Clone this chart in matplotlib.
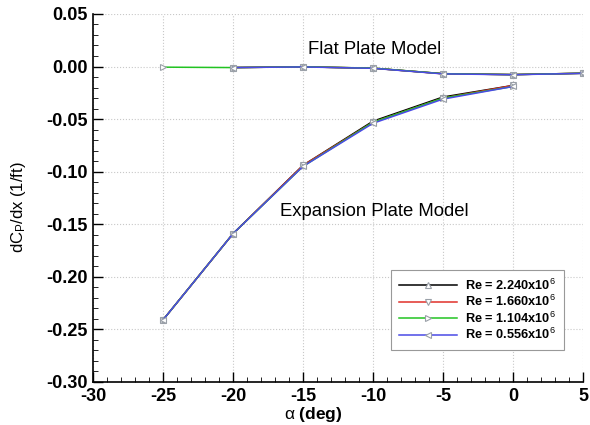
import matplotlib

matplotlib.use("Agg")
import matplotlib.pyplot as plt
from matplotlib.ticker import MultipleLocator

plt.rcParams["font.family"] = ["Liberation Sans", "DejaVu Sans"]
plt.rcParams["axes.unicode_minus"] = False
plt.rcParams["mathtext.fontset"] = "custom"
plt.rcParams["mathtext.rm"] = "Liberation Sans"
plt.rcParams["mathtext.it"] = "Liberation Sans"
plt.rcParams["mathtext.bf"] = "Liberation Sans:bold"

# flat plate model
alpha_flat = [-20, -15, -10, -5, 0, 5]
alpha_flat_green = [-25, -20, -15, -10, -5, 0, 5]
flat = {
    "black": [-0.0010, -0.0003, -0.0016, -0.0068, -0.0077, -0.0064],
    "red": [-0.0010, -0.0003, -0.0016, -0.0069, -0.0077, -0.0064],
    "green": [-0.0006, -0.0010, -0.0003, -0.0015, -0.0068, -0.0077, -0.0064],
    "blue": [-0.0010, -0.0004, -0.0017, -0.0070, -0.0078, -0.0065],
}

# expansion plate model
alpha_exp = [-25, -20, -15, -10, -5, 0]
expansion = {
    "black": [-0.241, -0.159, -0.094, -0.052, -0.029, -0.018],
    "red": [-0.241, -0.159, -0.094, -0.053, -0.030, -0.018],
    "green": [-0.241, -0.159, -0.095, -0.053, -0.030, -0.019],
    "blue": [-0.241, -0.159, -0.095, -0.054, -0.031, -0.019],
}

labels = ["Re = 2.240x10$^6$", "Re = 1.660x10$^6$",
          "Re = 1.104x10$^6$", "Re = 0.556x10$^6$"]
colors = {"black": "#000000", "red": "#e0302a", "green": "#22c322", "blue": "#4a4ae6"}
markers = {"black": "^", "red": "v", "green": ">", "blue": "<"}

fig = plt.figure(figsize=(5.9, 4.25), dpi=100)
ax = fig.add_axes([0.1576, 0.1012, 0.8305, 0.866])

handles = []
for key, lab in zip(["black", "red", "green", "blue"], labels):
    xf = alpha_flat_green if key == "green" else alpha_flat
    kw = dict(color=colors[key], lw=1.1, marker=markers[key], ms=4.5,
              mfc="white", mec="#9aa0a8", mew=0.8)
    h, = ax.plot(xf, flat[key], label=lab, **kw)
    ax.plot(alpha_exp, expansion[key], **kw)
    handles.append(h)

ax.text(-9.9, 0.0165, "Flat Plate Model", ha="center", va="center", fontsize=13.3)
ax.text(-9.9, -0.1375, "Expansion Plate Model", ha="center", va="center", fontsize=13.3)

ax.set_xlim(-30, 5)
ax.set_ylim(-0.30, 0.05)
ax.xaxis.set_major_locator(MultipleLocator(5))
ax.xaxis.set_minor_locator(MultipleLocator(1))
ax.yaxis.set_major_locator(MultipleLocator(0.05))
ax.yaxis.set_minor_locator(MultipleLocator(0.01))
ax.yaxis.set_major_formatter(plt.FuncFormatter(lambda v, p: f"{v:.2f}"))
ax.tick_params(which="both", direction="in", top=False, right=False)
ax.tick_params(which="major", length=7, width=1, labelsize=13)
ax.tick_params(axis="x", which="major", pad=4)
ax.tick_params(which="minor", length=3.5, width=0.6)
for lab in ax.get_xticklabels() + ax.get_yticklabels():
    lab.set_fontweight("bold")
ax.spines["top"].set_visible(False)
ax.spines["right"].set_visible(False)
ax.spines["left"].set_linewidth(1.2)
ax.spines["bottom"].set_linewidth(1.2)
ax.grid(True, which="major", color="#c8c8c8", ls=":", lw=0.8)

ax.set_xlabel(r"$\alpha$ (deg)", fontsize=12.5, fontweight="bold")
ax.set_ylabel(r"dC$_\mathrm{P}$/dx (1/ft)", fontsize=12)
ax.xaxis.set_label_coords(0.45, -0.063)
ax.yaxis.set_label_coords(-0.133, 0.475)

leg = ax.legend(handles=handles, loc="upper left", bbox_to_anchor=(0.608, 0.304),
                fontsize=9.2, handlelength=4.6, fancybox=False, framealpha=1,
                edgecolor="#999999", borderpad=0.6, labelspacing=0.1,
                borderaxespad=0, handletextpad=0.6)
leg.get_frame().set_linewidth(0.8)
for t in leg.get_texts():
    t.set_fontweight("bold")

fig.savefig("out.png", dpi=100)
